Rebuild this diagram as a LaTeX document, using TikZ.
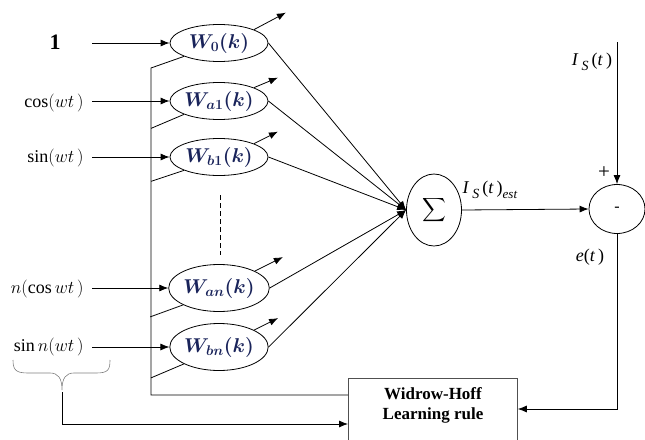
\RequirePackage{fix-cm}
\documentclass[tikz,border=0pt]{standalone}
\usepackage{bm}
\usepackage{graphicx}
\usepackage{fontspec}
\setmainfont{Liberation Serif}
\usetikzlibrary{shapes.geometric,arrows.meta}
\definecolor{wcol}{RGB}{25,35,90}
\definecolor{boxgray}{RGB}{80,80,80}
\begin{document}
\begin{tikzpicture}[x=1pt,y=-1pt,line width=0.8pt,
  wnode/.style={ellipse,draw,minimum width=98pt,minimum height=37pt,inner sep=0pt,
    font=\fontsize{20}{23}\selectfont,text=wcol},
  arr/.style={-{Latex[length=9pt,width=7pt]}},
  lab/.style={font=\fontsize{18}{21}\selectfont,inner sep=0pt},
  sml/.style={font=\fontsize{16}{18}\selectfont,inner sep=0pt}]
\useasboundingbox (0,0) rectangle (645,439);
% weight ellipses
\node[wnode] (w0) at (219,43) {$\bm{W_{0}(k)}$};
\node[wnode] (wa1) at (219,101) {$\bm{W_{a1}(k)}$};
\node[wnode] (wb1) at (219,157) {$\bm{W_{b1}(k)}$};
\node[wnode,minimum height=47pt] (wan) at (219,288) {$\bm{W_{an}(k)}$};
\node[wnode,minimum height=47pt] (wbn) at (219,347) {$\bm{W_{bn}(k)}$};
% input labels
\node[lab,font=\bfseries\fontsize{22}{24}\selectfont] (l0) at (55,42) {1};
\node[lab,anchor=east] (la1) at (84,103) {$\cos(wt\,)$};
\node[lab,anchor=east] (lb1) at (84,158) {$\sin(wt\,)$};
\node[lab,anchor=east] (lan) at (84,289) {$n(\cos wt\,)$};
\node[lab,anchor=east] (lbn) at (84,347) {$\sin n(wt\,)$};
\coordinate (s0) at (92,43);
\coordinate (sa1) at (92,101);
\coordinate (sb1) at (92,157);
\coordinate (san) at (92,288);
\coordinate (sbn) at (92,347);
\draw[arr] (s0) -- (w0.west);
\draw[arr] (sa1) -- (wa1.west);
\draw[arr] (sb1) -- (wb1.west);
\draw[arr] (san) -- (wan.west);
\draw[arr] (sbn) -- (wbn.west);
% output arrows
\draw[arr] (w0.north east) -- ++(32,-17);
\draw[arr] (wa1.north east) -- ++(24,-10);
\draw[arr] (wb1.north east) -- ++(24,-12);
\draw[arr] (wan.north east) -- ++(28,-14);
\draw[arr] (wbn.north east) -- ++(24,-12);
% dashed
\draw[dash pattern=on 5pt off 3pt] (220,195) -- (220,255);
% summation
\node[ellipse,draw,minimum width=55pt,minimum height=72pt,inner sep=0pt] (sum) at (434,210) {\scalebox{1.65}{$\displaystyle\sum$}};
\draw[arr] (w0.east) -- (sum.west);
\draw[arr] (wa1.east) -- (sum.west);
\draw[arr] (wb1.east) -- (sum.west);
\draw[arr] (wan.east) -- (sum.west);
\draw[arr] (wbn.east) -- (sum.west);
% minus
\node[ellipse,draw,minimum width=56pt,minimum height=49pt,inner sep=0pt,sml] (minus) at (617,209) {-};
\draw[arr] (sum.east) -- (minus.west);
\node[lab] (iest) at (490,190) {\textit{I}\,\raisebox{-5pt}{\fontsize{14}{14}\selectfont\textit{S}}\,(\textit{t}\,)\raisebox{-5pt}{\fontsize{13}{13}\selectfont\textit{est}}};
\coordinate (ist) at (617,42);
\draw[arr] (ist) -- (minus.north);
\node[lab] (isl) at (592,62) {\textit{I}\,\raisebox{-5pt}{\fontsize{14}{14}\selectfont\textit{S}}\,(\textit{t}\,)};
\node[lab,font=\fontsize{21}{22}\selectfont] (plus) at (604,173) {+};
\node[lab] (el) at (590,257) {\textit{e}(\textit{t}\,)};
% learning rule box
\node[draw=boxgray,minimum width=169pt,minimum height=80pt,anchor=north west,inner sep=0pt] (wh) at (348,378) {};
\node[lab,font=\bfseries\fontsize{17}{20}\selectfont,align=center] (wht) at (433,405) {Widrow-Hoff\\Learning rule};
% tap lines to vertical bus
\coordinate (vtop) at (151,68);
\coordinate (vb) at (151,395);
\draw (w0.south west) -- (vtop) -- (vb) -- (vb -| wh.west);
\draw (wa1.south west) -- ++(-33,14);
\draw (wb1.south west) -- ++(-33,11);
\draw (wan.south west) -- ++(-33,12);
\draw (wbn.south west) -- ++(-33,14);
% error feedback
\coordinate (fbr) at (617,409);
\draw[arr] (minus.south) -- (fbr) -- (fbr -| wh.east);
% brace and input feedback
\draw[line width=0.6pt,gray] (13,360) .. controls (13,370) and (16,373) .. (28,373) -- (50,373)
  .. controls (58,373) and (62,378) .. (62,390)
  .. controls (62,378) and (66,373) .. (74,373) -- (96,373)
  .. controls (108,373) and (110,370) .. (110,360);
\coordinate (bt) at (62,392);
\coordinate (fbl) at (62,424);
\draw[arr] (bt) -- (fbl) -- (fbl -| wh.west);
\end{tikzpicture}
\end{document}
